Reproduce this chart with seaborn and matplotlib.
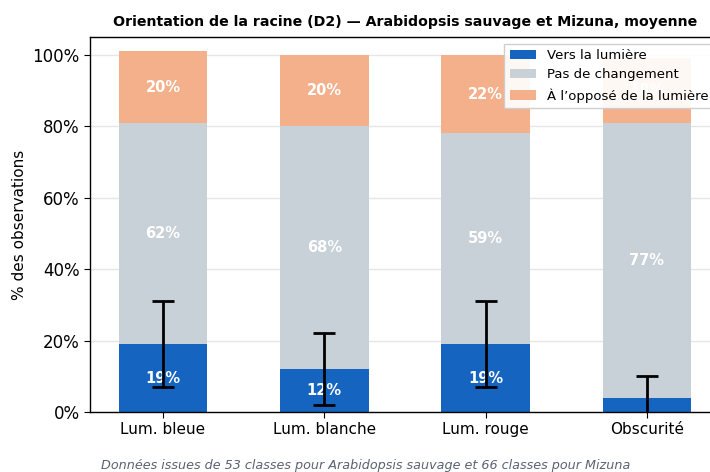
import numpy as np
import pandas as pd
import matplotlib
matplotlib.use("Agg")
import matplotlib.pyplot as plt
import seaborn as sns

# values (percent of observations)
conditions = ["Lum. bleue", "Lum. blanche", "Lum. rouge", "Obscurité"]
vers_lumiere = [19, 12, 19, 4]
pas_changement = [62, 68, 59, 77]
oppose_lumiere = [20, 20, 22, 18]
err_low = [7, 2, 7, -2]
err_high = [31, 22, 31, 10]

series_names = ["Vers la lumière", "Pas de changement", "À l’opposé de la lumière"]
colors = ["#1565C0", "#C8D1D8", "#F4B08B"]

sns.set_style("white")
plt.rcParams["font.family"] = ["DejaVu Sans"]
plt.rcParams.update({"text.color": "black", "axes.labelcolor": "black",
                     "xtick.color": "black", "ytick.color": "black"})

fig = plt.figure(figsize=(7.10, 4.72), dpi=100)
ax = fig.add_axes([90 / 710, 1 - 412 / 472, 630 / 710, 375 / 472])

df = pd.DataFrame({"cond": conditions, "vers": vers_lumiere,
                   "pas": pas_changement, "opp": oppose_lumiere})
bottoms = [np.zeros(len(conditions)), np.array(vers_lumiere, float),
           np.array(vers_lumiere, float) + np.array(pas_changement, float)]
cols = ["vers", "pas", "opp"]

for col, name, c, b in zip(cols, series_names, colors, bottoms):
    sns.barplot(data=df, x="cond", y=col, color=c, bottom=b, width=0.55,
                label=name, ax=ax, saturation=1, edgecolor="none", zorder=2)
    for i, (v, b0) in enumerate(zip(df[col], b)):
        if v >= 8:
            ax.text(i, b0 + v / 2, f"{v}%", ha="center", va="center",
                    color="white", fontsize=10.5, fontweight="bold", zorder=4)

x = np.arange(len(conditions))
yc = np.array(vers_lumiere, float)
yerr = [yc - np.array(err_low), np.array(err_high) - yc]
ax.errorbar(x, yc, yerr=yerr, fmt="none", ecolor="black", elinewidth=2,
            capsize=8, capthick=2, zorder=5)

ax.set_ylim(0, 105)
ax.set_yticks(range(0, 101, 20))
ax.set_yticklabels([f"{t}%" for t in range(0, 101, 20)], fontsize=12)
ax.tick_params(axis="x", labelsize=11)
ax.tick_params(axis="both", length=4, direction="out", left=True, bottom=True)
ax.set_xlabel("")
ax.set_ylabel("% des observations", fontsize=11)
ax.yaxis.grid(True, color="#E6E6E6", linewidth=1, zorder=0)
ax.set_axisbelow(True)
for s in ax.spines.values():
    s.set_color("black")
    s.set_linewidth(1)

ax.set_title("Orientation de la racine (D2) — Arabidopsis sauvage et Mizuna, moyenne",
             fontsize=10.2, fontweight="bold", pad=8)
ax.legend(loc="upper right", fontsize=9.5, frameon=True, fancybox=False,
          edgecolor="#CCCCCC", framealpha=0.92)

fig.text(366 / 710, 1 - 466 / 472,
         "Données issues de 53 classes pour Arabidopsis sauvage et 66 classes pour Mizuna",
         ha="center", va="center", fontsize=9.2, style="italic", color="#5A6270")

fig.savefig("out.png", dpi=100)
